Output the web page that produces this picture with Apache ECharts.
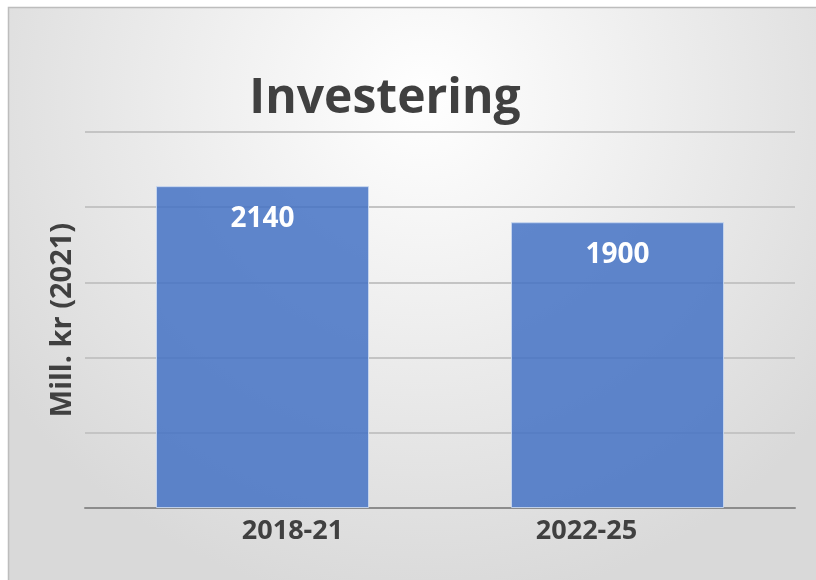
<!DOCTYPE html>
<html>
<head>
<meta charset="utf-8">
<script src="https://cdn.jsdelivr.net/npm/echarts@6/dist/echarts.min.js"></script>
<style>
  html, body { margin: 0; padding: 0; background: #ffffff; }
  #main { width: 816px; height: 580px; }
</style>
</head>
<body>
<div id="main"></div>
<script>
  var categories = ['2018-21', '2022-25'];
  var values = [2140, 1900];
  var yMin = 0, yMax = 2500, yStep = 500;

  var myChart = echarts.init(document.getElementById('main'));

  var option = {
    animation: false,
    textStyle: { fontFamily: 'Open Sans' },
    graphic: [{
      type: 'rect',
      z: -10,
      shape: { x: 8.5, y: 7.5, width: 830, height: 600 },
      style: {
        fill: {
          type: 'radial', x: 0.5, y: 0.15, r: 0.85,
          colorStops: [{ offset: 0, color: '#ffffff' }, { offset: 1, color: '#d9d9d9' }]
        },
        stroke: '#bdbdbd', lineWidth: 1.5
      }
    }],
    title: {
      text: 'Investering',
      left: 380, top: 70, textAlign: 'center',
      textStyle: { fontSize: 48, fontWeight: 'bold', color: '#404040', fontFamily: 'Open Sans' }
    },
    grid: { left: 85, right: 21, top: 132, bottom: 72 },
    xAxis: {
      type: 'category',
      data: categories,
      axisLine: { lineStyle: { color: '#8c8c8c', width: 2 } },
      axisTick: { show: false },
      axisLabel: {
        margin: 10,
        // labels sit a bit toward the middle of the chart in the original
        formatter: function (v, i) { return (i === 0 ? '{a|' : '{b|') + v + '}'; },
        rich: {
          a: { fontSize: 27, fontWeight: 'bold', color: '#404040', padding: [0, 0, 0, 60] },
          b: { fontSize: 27, fontWeight: 'bold', color: '#404040', padding: [0, 62, 0, 0] }
        }
      }
    },
    yAxis: {
      type: 'value',
      min: yMin, max: yMax, interval: yStep,
      name: 'Mill. kr (2021)',
      nameLocation: 'middle',
      nameGap: 8,
      nameTextStyle: { fontSize: 29, fontWeight: 'bold', color: '#404040' },
      axisLabel: { show: false },
      axisLine: { show: false },
      axisTick: { show: false },
      splitLine: { lineStyle: { color: '#c4c4c4', width: 2 } }
    },
    series: [{
      type: 'bar',
      data: values,
      barWidth: '60%',
      itemStyle: { color: 'rgba(68,114,196,0.85)', borderColor: 'rgba(200,215,240,0.9)', borderWidth: 1 },
      label: {
        show: true, position: 'insideTop', distance: 19,
        fontSize: 28, fontWeight: 'bold', color: '#ffffff'
      }
    }]
  };

  myChart.setOption(option);
</script>
</body>
</html>
